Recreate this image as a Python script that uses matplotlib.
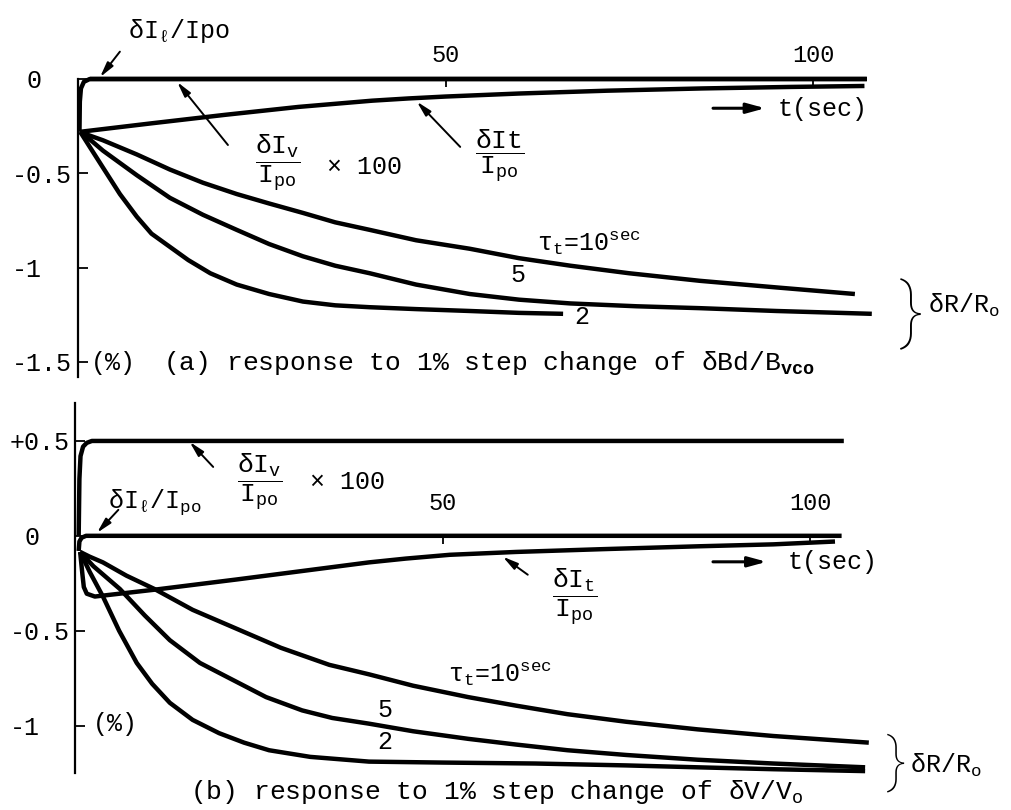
import matplotlib.pyplot as plt

plt.rcParams['font.family'] = ['Liberation Mono', 'DejaVu Sans Mono', 'DejaVu Sans']
plt.rcParams['mathtext.fontset'] = 'custom'
plt.rcParams['mathtext.rm'] = 'Liberation Mono'
plt.rcParams['mathtext.it'] = 'Liberation Mono'
plt.rcParams['mathtext.bf'] = 'Liberation Mono:bold'
plt.rcParams['mathtext.default'] = 'rm'

# ---- panel (a): response to 1% step change of dBd/Bvco ----
t_l_a = [0.2, 0.25, 0.4, 0.8, 1.6, 107.3]
dIl_a = [-0.28, -0.12, -0.05, -0.015, 0.0, 0.0]
t_v_a = [1.6, 107.3]
dIv_a = [0.0, 0.0]
t_t_a = [0.3, 10, 20, 30, 40, 45, 50, 60, 72, 85, 97, 107]
dIt_a = [-0.28, -0.235, -0.19, -0.148, -0.115, -0.103, -0.093, -0.077, -0.062, -0.05,
         -0.042, -0.037]
t_10_a = [0.3, 1.6, 3.4, 8, 12.5, 17, 21.6, 26, 30.6, 35, 39.7, 46, 53.3, 60, 67, 75,
          84.6, 95, 105.7]
R_10_a = [-0.28, -0.30, -0.325, -0.40, -0.48, -0.55, -0.61, -0.66, -0.71, -0.76, -0.80,
          -0.855, -0.90, -0.95, -0.99, -1.03, -1.07, -1.105, -1.14]
t_5_a = [0.3, 1.6, 3.4, 8, 12.5, 17, 21.6, 26, 30.6, 35, 39.7, 46, 53.3, 60, 67, 76,
         84.6, 95, 108]
R_5_a = [-0.28, -0.32, -0.38, -0.51, -0.63, -0.72, -0.80, -0.875, -0.94, -0.99, -1.03,
         -1.09, -1.14, -1.17, -1.19, -1.205, -1.215, -1.23, -1.245]
t_2_a = [0.3, 1.6, 3.4, 5.7, 8, 10, 12.5, 15, 18, 21.6, 26, 30.6, 35, 39.7, 46, 53.3,
         60, 66]
R_2_a = [-0.28, -0.36, -0.47, -0.61, -0.73, -0.82, -0.89, -0.96, -1.03, -1.09, -1.14,
         -1.18, -1.20, -1.21, -1.22, -1.23, -1.24, -1.245]
yticks_a = [0, -0.5, -1, -1.5]
ylabels_a = [' 0', '-0.5', '-1', '-1.5']

# ---- panel (b): response to 1% step change of dV/Vo ----
t_v_b = [0.5, 0.6, 0.75, 1.1, 1.6, 2.3, 104.6]
dIv_b = [0.0, 0.3, 0.42, 0.47, 0.49, 0.5, 0.5]
t_l_b = [0.5, 0.6, 0.9, 1.5, 104.3]
dIl_b = [-0.08, -0.03, -0.01, 0.0, 0.0]
t_t_b = [0.7, 1.0, 1.2, 1.6, 2.7, 10.8, 22, 32, 40, 45, 51, 60, 72, 85, 95, 103.4]
dIt_b = [-0.085, -0.2, -0.27, -0.305, -0.32, -0.284, -0.23, -0.18, -0.14, -0.12, -0.10,
         -0.085, -0.07, -0.055, -0.045, -0.03]
t_10_b = [0.7, 2, 3.8, 7, 10.8, 16, 22, 28, 34.6, 40, 46, 53.5, 60, 67, 75, 84.7, 95, 108]
R_10_b = [-0.085, -0.11, -0.14, -0.21, -0.28, -0.39, -0.49, -0.59, -0.68, -0.73, -0.79,
          -0.85, -0.895, -0.94, -0.98, -1.02, -1.055, -1.09]
t_5_b = [0.7, 2.5, 6.1, 9.5, 12.9, 17, 22, 26, 30.9, 35, 40, 46, 53.5, 60, 67, 75, 84.7,
         95, 107.5]
R_5_b = [-0.085, -0.16, -0.28, -0.42, -0.55, -0.67, -0.77, -0.85, -0.92, -0.96, -0.99,
         -1.03, -1.07, -1.10, -1.13, -1.155, -1.18, -1.20, -1.22]
t_2_b = [0.7, 2, 3.8, 6, 8.4, 10.5, 12.9, 16, 19.6, 23, 26.4, 32, 40, 50, 62.6, 75, 84.7,
         95, 107.5]
R_2_b = [-0.085, -0.19, -0.32, -0.50, -0.67, -0.78, -0.88, -0.97, -1.04, -1.09, -1.13,
         -1.165, -1.19, -1.195, -1.2, -1.21, -1.22, -1.23, -1.24]
yticks_b = [0.5, 0, -0.5, -1]
ylabels_b = ['+0.5', ' 0', '-0.5', '-1']

xticks = [50, 100]

W, H = 1011, 810
fig = plt.figure(figsize=(W / 100, H / 100), dpi=100)
ax_a = fig.add_axes([78 / W, 1 - 377 / H, 808.5 / W, 298 / H])
ax_b = fig.add_axes([75 / W, 1 - 773 / H, 808.5 / W, 370 / H])

LW = 3.2
arrow = dict(arrowstyle='-|>,head_length=0.9,head_width=0.22', lw=1.4, color='black',
             shrinkA=0, shrinkB=0)
big_arrow = dict(arrowstyle='-|>,head_length=1.1,head_width=0.3', lw=2.2, color='black',
                 shrinkA=0, shrinkB=0)
brace_font = dict(family=['Roboto', 'DejaVu Sans'], fontweight='light')


def setup(ax, ylim, yticks, ylabels, ypad):
    ax.set_xlim(0, 110)
    ax.set_ylim(*ylim)
    for s in ['right', 'bottom']:
        ax.spines[s].set_visible(False)
    ax.spines['left'].set_linewidth(1.6)
    ax.spines['top'].set_position(('data', 0))
    ax.spines['top'].set_color('none')
    ax.xaxis.set_ticks_position('top')
    ax.set_xticks(xticks)
    ax.set_yticks(yticks)
    ax.set_yticklabels(ylabels)
    for lbl in ax.get_yticklabels():
        lbl.set_horizontalalignment('left')
    ax.tick_params(axis='y', direction='in', length=7, width=1.3, pad=ypad, labelsize=18)
    ax.patch.set_visible(False)


def curves(ax, pairs):
    for t, v in pairs:
        ax.plot(t, v, color='black', lw=LW, clip_on=False, solid_capstyle='butt',
                solid_joinstyle='round')


# panel (a)
setup(ax_a, (-1.58, 0), yticks_a, ylabels_a, 47.5)
ax_a.tick_params(axis='x', direction='in', length=6, width=1.3, pad=9, labelsize=17)
curves(ax_a, [(t_l_a, dIl_a), (t_v_a, dIv_a), (t_t_a, dIt_a),
              (t_10_a, R_10_a), (t_5_a, R_5_a), (t_2_a, R_2_a)])

ax_a.text(6.8, 0.215, r'$\delta I_\ell$/Ipo', fontsize=18, va='baseline')
ax_a.annotate('', xy=(3.0, 0.01), xytext=(5.7, 0.145), arrowprops=arrow,
              annotation_clip=False)
ax_a.text(27.2, -0.45, r'$\dfrac{\delta I_v}{I_{po}}$', fontsize=19, ha='center', va='center')
ax_a.text(33.9, -0.468, '× 100', fontsize=18, va='center')
ax_a.annotate('', xy=(13.5, -0.016), xytext=(20.4, -0.35), arrowprops=arrow,
              annotation_clip=False)
ax_a.text(57.4, -0.404, r'$\dfrac{\delta It}{I_{po}}$', fontsize=19, ha='center', va='center')
ax_a.annotate('', xy=(46.1, -0.12), xytext=(52.0, -0.36), arrowprops=arrow,
              annotation_clip=False)
ax_a.annotate('', xy=(93.5, -0.155), xytext=(86.4, -0.155), arrowprops=big_arrow,
              annotation_clip=False)
ax_a.text(95.2, -0.16, 't(sec)', fontsize=18, va='center')
ax_a.text(62.4, -0.91, r'$\tau_t$=10$^{sec}$', fontsize=18, va='baseline')
ax_a.text(59.9, -1.04, '5', fontsize=18, ha='center', va='center')
ax_a.text(68.5, -1.26, '2', fontsize=18, ha='center', va='center')
ax_a.text(113.3, -1.245, '}', fontsize=52, ha='center', va='center', **brace_font)
ax_a.text(115.6, -1.20, r'$\delta$R/R$_o$', fontsize=18, va='center')
ax_a.text(1.8, -1.505, '(%)', fontsize=18, va='center')
ax_a.text(11.6, -1.505, r'(a) response to 1% step change of $\delta$Bd/B$_{\mathbf{vco}}$',
          fontsize=19, va='center')

# panel (b)
setup(ax_b, (-1.25, 0.7), yticks_b, ylabels_b, 46.8)
ax_b.tick_params(axis='x', direction='in', length=6, width=1.3, pad=15, labelsize=17)
curves(ax_b, [(t_v_b, dIv_b), (t_l_b, dIl_b), (t_t_b, dIt_b),
              (t_10_b, R_10_b), (t_5_b, R_5_b), (t_2_b, R_2_b)])

ax_b.text(25.2, 0.284, r'$\dfrac{\delta I_v}{I_{po}}$', fontsize=19, ha='center', va='center')
ax_b.text(32.0, 0.284, '× 100', fontsize=18, va='center')
ax_b.annotate('', xy=(15.6, 0.495), xytext=(18.8, 0.363), arrowprops=arrow,
              annotation_clip=False)
ax_b.text(4.5, 0.147, r'$\delta I_\ell/I_{po}$', fontsize=18, va='baseline')
ax_b.annotate('', xy=(3.0, 0.016), xytext=(5.9, 0.137), arrowprops=arrow,
              annotation_clip=False)
ax_b.text(68.0, -0.326, r'$\dfrac{\delta I_t}{I_{po}}$', fontsize=19, ha='center', va='center')
ax_b.annotate('', xy=(58.2, -0.11), xytext=(61.6, -0.205), arrowprops=arrow,
              annotation_clip=False)
ax_b.annotate('', xy=(94.1, -0.137), xytext=(86.8, -0.137), arrowprops=big_arrow,
              annotation_clip=False)
ax_b.text(96.9, -0.137, 't(sec)', fontsize=18, va='center')
ax_b.text(50.7, -0.77, r'$\tau_t$=10$^{sec}$', fontsize=18, va='baseline')
ax_b.text(42.2, -0.92, '5', fontsize=18, ha='center', va='center')
ax_b.text(42.2, -1.085, '2', fontsize=18, ha='center', va='center')
ax_b.text(2.4, -0.99, '(%)', fontsize=18, va='center')
ax_b.text(111.6, -1.195, '}', fontsize=43, ha='center', va='center', **brace_font)
ax_b.text(113.6, -1.21, r'$\delta$R/R$_o$', fontsize=18, va='center')
ax_b.text(15.6, -1.35, r'(b) response to 1% step change of $\delta$V/V$_o$',
          fontsize=19, va='center')

fig.savefig('out.png', dpi=100)
